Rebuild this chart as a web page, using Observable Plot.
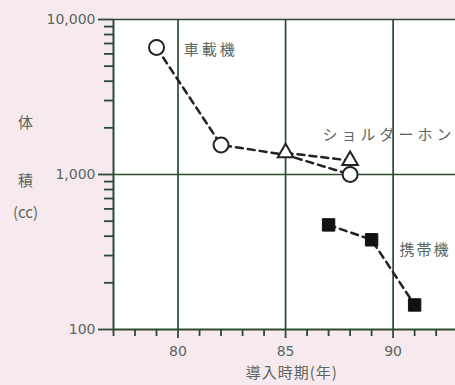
<!DOCTYPE html>
<html><head><meta charset="utf-8">
<script src="https://cdn.jsdelivr.net/npm/d3@7"></script>
<script src="https://cdn.jsdelivr.net/npm/@observablehq/plot@0.6"></script>
<style>html,body{margin:0;padding:0;background:#f6eaee;}#chart svg{display:block;}</style>
</head><body><div id="chart"></div>
<script>
// 車載機 (open circles)
const carYears = [79, 82, 88];
const carValues = [6600, 1550, 1000];
// dashed path of 車載機 (joins the ショルダーホン line at 85)
const carLineYears = [79, 82, 85, 88];
const carLineValues = [6600, 1550, 1340, 1000];
// ショルダーホン (open triangles)
const shoulderYears = [85, 88];
const shoulderValues = [1380, 1230];
// 携帯機 (filled squares)
const portableYears = [87, 89, 91];
const portableValues = [473, 379, 144];

// axis ticks
const xMajorTicks = [80, 85, 90];
const xMinorTicks = [77, 78, 79, 81, 82, 83, 84, 86, 87, 88, 89, 91, 92];
const yMajorTicks = [100, 1000, 10000];
const yMinorTicks = [200, 300, 400, 500, 600, 700, 800, 900, 2000, 3000, 4000, 5000, 6000, 7000, 8000, 9000];
const gridYears = [80, 85, 90];
const gridValues = [1000, 10000];

// labels
const seriesLabels = [
  {text: "車載機", x: 80.27, y: 6300, spacing: 3},
  {text: "ショルダーホン", x: 86.72, y: 1790, spacing: 4},
  {text: "携帯機", x: 90.3, y: 324, spacing: 2}
];
const yTitleParts = [
  {text: "体", y: 2130},
  {text: "積", y: 900},
  {text: "(cc)", y: 560}
];
const xTitle = "導入時期(年)";

const ink = "#2c4a33";
const textInk = "#5a6660";
const cjk = "'Noto Sans CJK JP', sans-serif";
const digits = "'DejaVu Sans', sans-serif";

const car = carYears.map((x, i) => ({x, y: carValues[i]}));
const carLine = carLineYears.map((x, i) => ({x, y: carLineValues[i]}));
const shoulder = shoulderYears.map((x, i) => ({x, y: shoulderValues[i]}));
const portable = portableYears.map((x, i) => ({x, y: portableValues[i]}));

const W = 455, H = 385, mL = 113, mT = 19, mB = 56, mR = 0;
const frameW = W - mL - mR, frameH = H - mT - mB;

const chart = Plot.plot({
  width: W,
  height: H,
  marginLeft: mL,
  marginTop: mT,
  marginBottom: mB,
  marginRight: mR,
  style: {background: "transparent", fontFamily: cjk, fontSize: "14px", color: textInk},
  x: {domain: [77, 92.9]},
  y: {type: "log", domain: [100, 10000]},
  marks: [
    Plot.frame({fill: "white", stroke: null}),
    Plot.ruleX(gridYears, {x: d => d, stroke: ink, strokeWidth: 1.7}),
    Plot.ruleY(gridValues, {y: d => d, stroke: ink, strokeWidth: 1.7}),
    // outward tick marks
    Plot.ruleX(xMinorTicks, {x: d => d, insetTop: frameH, insetBottom: -7, stroke: ink, strokeWidth: 1.8}),
    Plot.ruleX(xMajorTicks, {x: d => d, insetTop: frameH, insetBottom: -9, stroke: ink, strokeWidth: 1.8}),
    Plot.ruleY(yMinorTicks, {y: d => d, insetRight: frameW, insetLeft: -9, stroke: ink, strokeWidth: 1.8}),
    Plot.ruleY(yMajorTicks, {y: d => d, insetRight: frameW, insetLeft: -15, stroke: ink, strokeWidth: 1.8}),
    Plot.ruleX([77], {x: d => d, stroke: ink, strokeWidth: 2}),
    Plot.ruleY([100], {y: d => d, stroke: ink, strokeWidth: 2}),
    Plot.axisX({ticks: xMajorTicks, tickSize: 0, tickPadding: 17, fill: textInk, label: null, fontSize: 14, fontFamily: digits}),
    Plot.axisY({ticks: yMajorTicks, tickSize: 0, tickPadding: 18, tickFormat: d3.format(","), fill: textInk, label: null, fontSize: 14, fontFamily: digits}),
    Plot.line(carLine, {x: "x", y: "y", stroke: "#222", strokeWidth: 2.5, strokeDasharray: "7,5"}),
    Plot.line(shoulder, {x: "x", y: "y", stroke: "#222", strokeWidth: 2.5, strokeDasharray: "7,5"}),
    Plot.line(portable, {x: "x", y: "y", stroke: "#222", strokeWidth: 2.5, strokeDasharray: "7,5"}),
    Plot.dot(car, {x: "x", y: "y", r: 7.5, fill: "white", stroke: "#222", strokeWidth: 2}),
    Plot.dot(shoulder, {x: "x", y: "y", symbol: "triangle", r: 5.8, fill: "white", stroke: "#222", strokeWidth: 2}),
    Plot.dot(portable, {x: "x", y: "y", symbol: "square", r: 7, fill: "#111", stroke: "#111", strokeWidth: 1}),
    Plot.text(seriesLabels, {x: "x", y: "y", text: "text", textAnchor: "start", fill: textInk, fontSize: 15}),
    Plot.text(yTitleParts, {y: "y", text: "text", frameAnchor: "left", dx: -88, textAnchor: "middle", fill: textInk, fontSize: 15}),
    Plot.text([xTitle], {frameAnchor: "bottom", lineAnchor: "middle", x: 85.29, dy: 44, text: d => d, fill: textInk, fontSize: 15})
  ]
});
// letter spacing of the series labels, as in the reference
d3.select(chart).selectAll("text").each(function() {
  const lab = seriesLabels.find(l => l.text === this.textContent);
  if (lab) this.setAttribute("letter-spacing", lab.spacing);
  if (this.textContent === xTitle) this.setAttribute("letter-spacing", 1);
});
document.getElementById("chart").append(chart);
</script>
</body></html>
